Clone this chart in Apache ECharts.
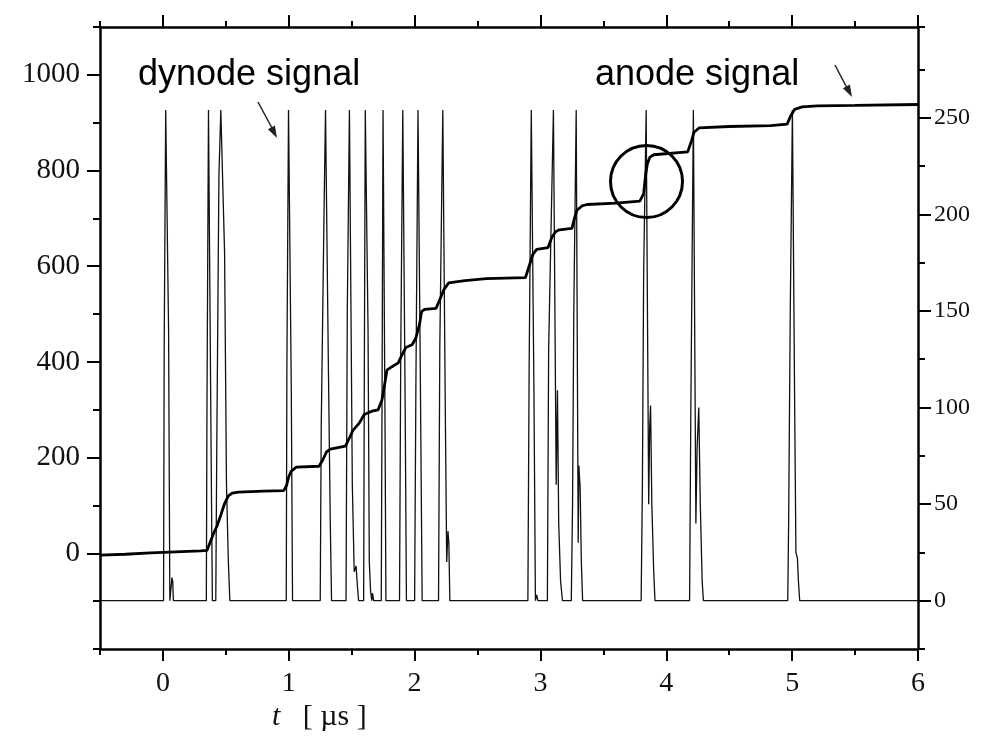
<!DOCTYPE html>
<html>
<head>
<meta charset="utf-8">
<title>dynode / anode signal</title>
<script src="https://cdn.jsdelivr.net/npm/echarts@6/dist/echarts.min.js"></script>
<style>
  html, body { margin: 0; padding: 0; background: #fff; }
  #chart { width: 1000px; height: 742px; }
</style>
</head>
<body>
<div id="chart"></div>
<script>
// tick labels
const xMajorTicks = [0, 1, 2, 3, 4, 5, 6]
const leftMajorTicks = [0, 200, 400, 600, 800, 1000]
const rightMajorTicks = [0, 50, 100, 150, 200, 250]

// anode signal (left axis) : [t (µs), value]
const anodeSignal = [
  [-0.5, -4], [-0.3, -2], [-0.1, 1], [0.1, 3], [0.3, 5], [0.35, 6],
  [0.4, 40], [0.43, 57], [0.46, 80], [0.49, 104], [0.52, 120], [0.55, 126], [0.6, 128], [0.8, 130], [0.96, 131],
  [0.98, 140], [1.0, 160], [1.02, 172], [1.06, 180], [1.24, 182],
  [1.27, 195], [1.3, 212], [1.33, 218], [1.45, 224],
  [1.48, 240], [1.51, 257], [1.56, 272], [1.6, 290], [1.66, 297], [1.71, 300],
  [1.74, 320], [1.76, 350], [1.78, 383], [1.82, 390], [1.87, 398],
  [1.9, 415], [1.93, 430], [1.98, 436], [2.01, 450], [2.04, 480], [2.055, 505], [2.08, 510], [2.17, 512],
  [2.2, 530], [2.23, 550], [2.27, 565], [2.4, 570], [2.57, 574], [2.88, 576],
  [2.91, 600], [2.94, 625], [2.97, 635], [3.06, 639],
  [3.09, 660], [3.12, 672], [3.15, 676], [3.25, 679],
  [3.27, 700], [3.29, 717], [3.33, 726], [3.37, 729], [3.6, 732], [3.79, 736],
  [3.82, 752], [3.835, 790], [3.85, 815], [3.87, 828], [3.9, 833], [4.17, 839],
  [4.2, 862], [4.22, 880], [4.26, 889], [4.5, 892], [4.83, 894], [4.96, 897],
  [4.99, 915], [5.02, 928], [5.08, 933], [5.2, 935], [5.5, 936], [6.0, 938]
]

// dynode signal (right axis) : [t (µs), value]
const dynodeSignal = [
  [-0.5, 0], [0.005, 0], [0.01, 130], [0.022, 254], [0.027, 254], [0.045, 140], [0.055, 0],
  [0.066, 0], [0.072, 12], [0.078, 10], [0.083, 0],
  [0.345, 0], [0.35, 100], [0.362, 254], [0.367, 254], [0.385, 60], [0.393, 0],
  [0.42, 0], [0.428, 80], [0.445, 220], [0.46, 254], [0.465, 254], [0.49, 180], [0.505, 60], [0.52, 20], [0.532, 0],
  [0.98, 0], [0.985, 120], [0.998, 254], [1.003, 254], [1.02, 110], [1.03, 0],
  [1.25, 0], [1.258, 90], [1.28, 200], [1.292, 254], [1.297, 254], [1.315, 120], [1.33, 40], [1.34, 0],
  [1.455, 0], [1.465, 150], [1.482, 254], [1.487, 254], [1.505, 60], [1.52, 15], [1.535, 18], [1.545, 8], [1.555, 0],
  [1.595, 0], [1.6, 110], [1.608, 254], [1.613, 254], [1.63, 140], [1.64, 20], [1.65, 5], [1.66, 0], [1.665, 4], [1.675, 0],
  [1.735, 0], [1.742, 120], [1.749, 254], [1.754, 254], [1.765, 90], [1.772, 0],
  [1.88, 0], [1.89, 130], [1.906, 254], [1.911, 254], [1.925, 100], [1.935, 0],
  [2.0, 0], [2.01, 110], [2.027, 254], [2.032, 254], [2.045, 120], [2.06, 0],
  [2.19, 0], [2.2, 130], [2.224, 254], [2.229, 254], [2.245, 90], [2.255, 20], [2.265, 36], [2.272, 30], [2.28, 0],
  [2.9, 0], [2.91, 120], [2.927, 254], [2.932, 254], [2.948, 110], [2.96, 0], [2.97, 3], [2.98, 0],
  [3.055, 0], [3.065, 130], [3.103, 254], [3.108, 254], [3.125, 60], [3.135, 109], [3.145, 40], [3.16, 10], [3.175, 0],
  [3.245, 0], [3.255, 50], [3.265, 150], [3.284, 254], [3.289, 254], [3.3, 30], [3.305, 70], [3.315, 59], [3.325, 20], [3.335, 0],
  [3.8, 0], [3.81, 60], [3.82, 170], [3.84, 254], [3.845, 254], [3.86, 50], [3.868, 90], [3.875, 101], [3.885, 50], [3.9, 15], [3.91, 0],
  [4.185, 0], [4.195, 100], [4.215, 254], [4.22, 254], [4.235, 40], [4.245, 80], [4.258, 100], [4.27, 50], [4.285, 10], [4.295, 0],
  [4.965, 0], [4.972, 40], [4.985, 150], [5.002, 254], [5.007, 254], [5.02, 100], [5.03, 25], [5.042, 22], [5.05, 10], [5.06, 0],
  [6.0, 0]
]

const serif = 'Liberation Serif'
const lineBlack = { color: '#000', width: 2.5 }
const tickBlack = { color: '#000', width: 2 }

const chart = echarts.init(document.getElementById('chart'))

// 主刻度轴 + 次刻度轴（叠加，只画短刻度）
const xMain = (position, showLabel) => ({
  type: 'value', position, min: -0.5, max: 6, interval: 0.5,
  axisLine: { show: true, onZero: false, lineStyle: lineBlack },
  axisTick: { show: true, inside: false, length: 12, lineStyle: tickBlack, customValues: xMajorTicks },
  axisLabel: {
    show: showLabel, customValues: xMajorTicks, margin: 21, color: '#111',
    fontFamily: serif, fontSize: 28,
    formatter: v => (Number.isInteger(v) ? String(v) : '')
  },
  splitLine: { show: false }
})
const xMinor = position => ({
  type: 'value', position, min: -0.5, max: 6, interval: 0.5,
  axisLine: { show: false, onZero: false },
  axisTick: { show: true, inside: false, length: 6, lineStyle: tickBlack },
  axisLabel: { show: false },
  splitLine: { show: false }
})

const option = {
  backgroundColor: '#fff',
  animation: false,
  grid: { left: 100, right: 82, top: 27, bottom: 93 },
  xAxis: [xMain('bottom', true), xMinor('bottom'), xMain('top', false), xMinor('top')],
  yAxis: [
    // 左轴 anode
    {
      type: 'value', position: 'left', min: -200, max: 1100, interval: 100,
      axisLine: { show: true, onZero: false, lineStyle: lineBlack },
      axisTick: { show: true, length: 13, lineStyle: tickBlack, customValues: leftMajorTicks },
      axisLabel: {
        customValues: leftMajorTicks, margin: 20, color: '#111', fontFamily: serif, fontSize: 29,
        formatter: v => (v >= 0 && v <= 1000 && v % 200 === 0 ? String(v) : '')
      },
      splitLine: { show: false }
    },
    // 右轴 dynode
    {
      type: 'value', position: 'right', min: -25, max: 297, interval: 25,
      axisLine: { show: true, onZero: false, lineStyle: lineBlack },
      axisTick: { show: true, length: 13, lineStyle: tickBlack, customValues: rightMajorTicks },
      axisLabel: {
        customValues: rightMajorTicks, margin: 16, color: '#111', fontFamily: serif, fontSize: 24,
        formatter: v => (v >= 0 && v <= 250 && v % 50 === 0 ? String(v) : '')
      },
      splitLine: { show: false }
    },
    // 左轴次刻度
    {
      type: 'value', position: 'left', min: -200, max: 1100, interval: 100,
      axisLine: { show: false, onZero: false },
      axisTick: { show: true, length: 7, lineStyle: tickBlack },
      axisLabel: { show: false }, splitLine: { show: false }
    },
    // 右轴次刻度
    {
      type: 'value', position: 'right', min: -25, max: 297, interval: 25,
      axisLine: { show: false, onZero: false },
      axisTick: { show: true, length: 7, lineStyle: tickBlack },
      axisLabel: { show: false }, splitLine: { show: false }
    }
  ],
  series: [
    {
      name: 'dynode signal', type: 'line', xAxisIndex: 0, yAxisIndex: 1,
      data: dynodeSignal, showSymbol: false, symbol: 'none',
      lineStyle: { color: '#111', width: 1.3 }, z: 2
    },
    {
      name: 'anode signal', type: 'line', xAxisIndex: 0, yAxisIndex: 0,
      data: anodeSignal, showSymbol: false, symbol: 'none',
      lineStyle: { color: '#000', width: 2.8 }, z: 3
    }
  ],
  graphic: [
    { type: 'text', left: 138, top: 57, style: { text: 'dynode signal', font: '36px "Liberation Sans"', fill: '#000' } },
    { type: 'text', left: 595, top: 57, style: { text: 'anode signal', font: '36px "Liberation Sans"', fill: '#000' } },
    // arrows
    { type: 'line', shape: { x1: 258, y1: 102, x2: 272, y2: 128 }, style: { stroke: '#222', lineWidth: 1.5 } },
    { type: 'polygon', shape: { points: [[277, 138], [267.9, 129.3], [274.9, 125.5]] }, style: { fill: '#222' } },
    { type: 'line', shape: { x1: 835, y1: 65, x2: 847, y2: 88 }, style: { stroke: '#222', lineWidth: 1.5 } },
    { type: 'polygon', shape: { points: [[852, 97], [842.9, 88.3], [849.9, 84.5]] }, style: { fill: '#222' } },
    // circle
    { type: 'circle', shape: { cx: 646.5, cy: 181.5, r: 36 }, style: { stroke: '#000', lineWidth: 3, fill: 'none' }, z: 10 },
    // x axis title
    {
      type: 'text', left: 272, top: 702,
      style: {
        text: '{i|t}   [ µs ]',
        font: '30px "Liberation Serif"', fill: '#111',
        rich: { i: { fontStyle: 'italic', fontFamily: serif, fontSize: 30 } }
      }
    }
  ]
}

chart.setOption(option)
</script>
</body>
</html>
